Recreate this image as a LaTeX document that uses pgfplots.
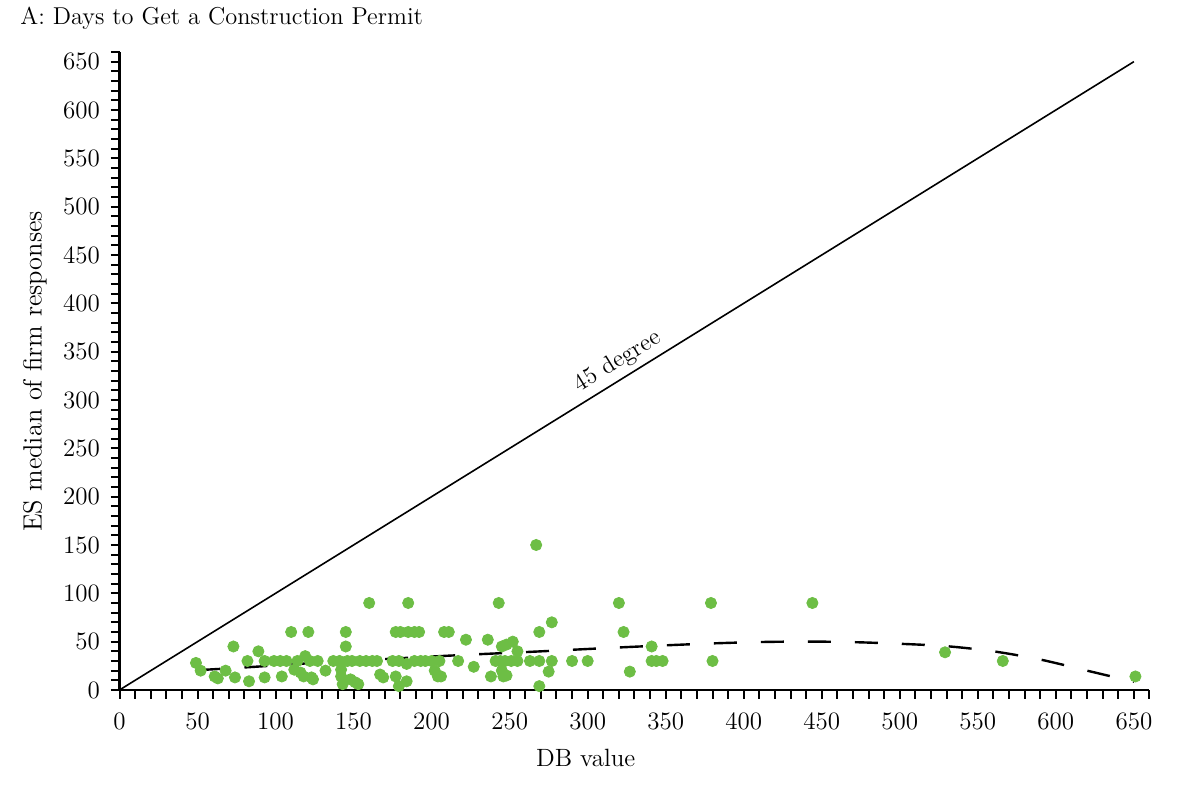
\documentclass[border=0pt]{standalone}
\usepackage{pgfplots}
\pgfplotsset{compat=1.18}
\definecolor{ptgreen}{RGB}{109,190,69}
\begin{document}
\begin{tikzpicture}
\useasboundingbox (-59.75pt,-50pt) rectangle (540.25pt,345pt);
\begin{axis}[
  at={(0,0)}, anchor=south west,
  width=515pt, height=319pt, scale only axis,
  xmin=0, xmax=660, ymin=0, ymax=660,
  axis lines=left,
  axis line style={-, line width=1.1pt},
  xtick={0,50,...,650}, ytick={0,50,...,650},
  minor xtick={0,10,...,660}, minor ytick={0,10,...,660},
  tick align=outside,
  major tick length=4.3pt, minor tick length=4.3pt,
  tick style={black, line width=1pt},
  /pgf/number format/assume math mode=true,
  ticklabel style={font=\fontsize{12.5}{14}\selectfont},
  xticklabel style={yshift=-3.5pt},
  yticklabel style={xshift=-2pt},
  clip=false,
]
\addplot[only marks, mark=*, mark size=2.8pt, color=ptgreen, mark options={fill=ptgreen, draw=none}] coordinates {
(49,28) (52,20) (61,14) (63,12) (68,20) (73,45) (74,13) (82,30) (83,9) (89,40)
(93,30) (93,13) (99,30) (103,30) (104,14) (107,30) (110,60) (112,21) (114,30) (116,18)
(118,14) (119,35) (121,60) (122,30) (123,13) (124,11) (127,30) (132,20) (137,30) (141,30)
(142,21) (142,14) (143,6) (145,60) (145,45) (146,30) (148,11) (149,30) (151,8) (153,6)
(154,30) (158,30) (160,90) (162,30) (165,30) (167,16) (169,13) (175,30) (177,60) (177,14)
(179,4) (179,30) (180,60) (184,9) (184,27) (185,60) (185,90) (189,60) (189,30) (192,60)
(193,30) (196,30) (200,30) (202,20) (204,14) (205,30) (206,14) (208,60) (211,60) (217,30)
(222,52) (227,24) (236,52) (238,14) (241,30) (243,90) (244,30) (245,45) (245,20) (246,14)
(247,30) (248,47) (248,15) (251,30) (252,50) (255,30) (255,40) (263,30) (267,150) (269,30)
(269,60) (269,4) (275,19) (277,30) (277,70) (290,30) (300,30) (320,90) (323,60) (327,19)
(341,45) (341,30) (344,30) (348,30) (379,90) (380,30) (444,90) (529,39) (566,30) (651,14)
};
\addplot[black, line width=0.8pt] coordinates {(0,0) (650,650)}
  node[pos=0.5, sloped, above, inner sep=2.5pt, font=\fontsize{12}{14}\selectfont] {45 degree};
\addplot[black, line width=1.2pt, dash pattern=on 11.5pt off 12pt, smooth] coordinates {
(50,20.5) (80,23.3) (110,26.5) (140,29.5) (170,32) (200,34.6) (230,37) (260,39.2)
(290,41.6) (320,44) (350,46.2) (380,48.2) (410,49.6) (440,50.1) (470,49.5) (500,47.8)
(530,45.3) (560,40) (590,31.5) (620,20) (650,8.5)
};
\end{axis}
\node[anchor=base west, inner sep=0pt, font=\fontsize{12.2}{14}\selectfont] at (-49.75pt,332.5pt) {A: Days to Get a Construction Permit};
\node[anchor=base, inner sep=0pt, font=\fontsize{12.5}{14}\selectfont] at (233.1pt,-38.35pt) {DB value};
\node[anchor=base, inner sep=0pt, rotate=90, font=\fontsize{13.2}{15}\selectfont] at (-38.9pt,159.25pt) {ES median of firm responses};
\end{tikzpicture}
\end{document}
